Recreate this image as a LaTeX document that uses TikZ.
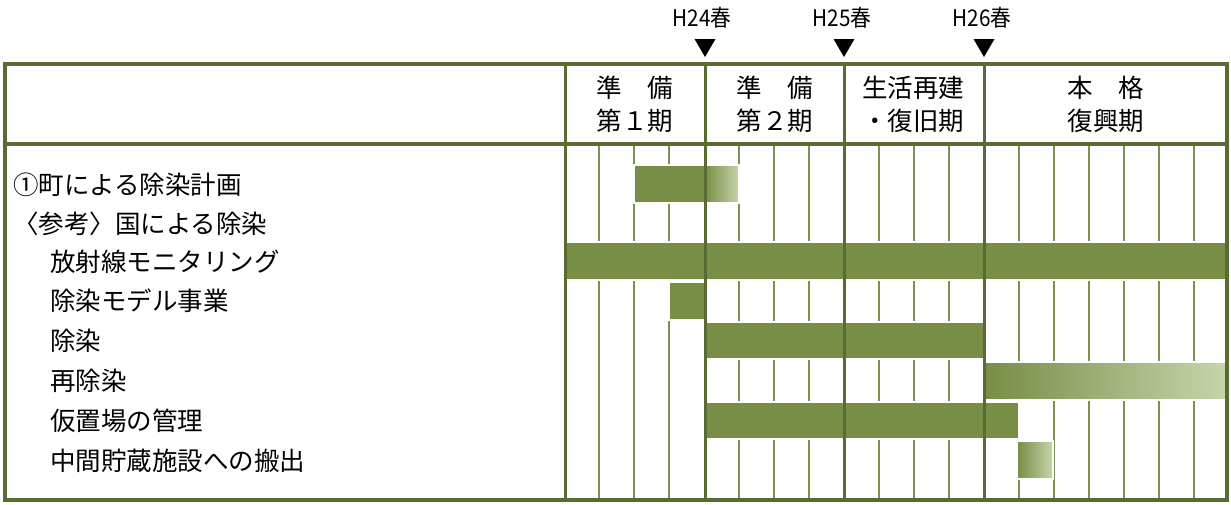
\documentclass[tikz,border=0pt]{standalone}
\usepackage{fontspec}
\setmainfont{Noto Sans CJK JP}
\usetikzlibrary{positioning}
\definecolor{bargreen}{HTML}{788D45}
\definecolor{framegreen}{HTML}{586B33}
\definecolor{tickgreen}{HTML}{7D9150}
\definecolor{fadegreen}{HTML}{C6D5AB}
\tikzset{
    rowtext/.style={anchor=west, inner sep=0pt, font=\fontsize{25.5}{26}\selectfont},
    phasetext/.style={align=center, inner sep=0pt, font=\fontsize{25.5}{33}\selectfont},
    yeartext/.style={inner sep=0pt, font=\fontsize{23}{23}\selectfont},
    bar/.style={fill=bargreen, draw=white, line width=2.5pt},
    fadebar/.style={left color=bargreen, right color=fadegreen, draw=white, line width=2.5pt},
    frameline/.style={draw=framegreen, line width=4pt},
    divline/.style={draw=framegreen, line width=3pt},
    tickline/.style={draw=tickgreen, line width=2pt},
    marker/.style={fill=black}
}

\begin{document}
\begin{tikzpicture}[x=1pt, y=-1pt]
    \useasboundingbox (0,0) rectangle (1231,504);
    \foreach \x in {599,634,669,739,774,809,879,914,949,1019,1054,1089,1124,1159,1194}
        \draw[tickline] (\x,144) -- (\x,500);
    \path[bar] (634,165) rectangle (705,203);
    \path[fadebar] (705,165) rectangle (739,203);
    \path[bar] (565,242) rectangle (1227,280);
    \path[bar] (669,282) rectangle (705,320);
    \path[bar] (705,322) rectangle (984,359);
    \path[fadebar] (984,362) rectangle (1227,400);
    \path[bar] (705,402) rectangle (1019,439);
    \path[fadebar] (1017,441) rectangle (1053,479);
    \foreach \x in {565,705,844,984}
        \draw[divline] (\x,64) -- (\x,500);
    \draw[frameline] (5,144) -- (1227,144);
    \draw[frameline] (5,64) rectangle (1227,500);
    \node[rowtext] (r1) at (13,185) {①町による除染計画};
    \node[rowtext] (r2) at (13,224) {〈参考〉国による除染};
    \node[rowtext] (r3) at (50,262) {放射線モニタリング};
    \node[rowtext] (r4) at (50,301) {除染モデル事業};
    \node[rowtext] (r5) at (50,341) {除染};
    \node[rowtext] (r6) at (50,381) {再除染};
    \node[rowtext] (r7) at (50,421) {仮置場の管理};
    \node[rowtext] (r8) at (50,461) {中間貯蔵施設への搬出};
    \node[phasetext] (p1) at (635,104) {準　備\\第１期};
    \node[phasetext] (p2) at (775,104) {準　備\\第２期};
    \node[phasetext] (p3) at (913,104) {生活再建\\・復旧期};
    \node[phasetext] (p4) at (1106,104) {本　格\\復興期};
    \node[yeartext] (h24) at (702,18) {\scalebox{0.9}[1]{H24春}};
    \node[yeartext] (h25) at (842,18) {\scalebox{0.9}[1]{H25春}};
    \node[yeartext] (h26) at (982,18) {\scalebox{0.9}[1]{H26春}};
    \foreach \x in {705,844,984}
        \fill[marker] (\x-10.5,39) -- (\x+10.5,39) -- (\x,57) -- cycle;
\end{tikzpicture}
\end{document}
